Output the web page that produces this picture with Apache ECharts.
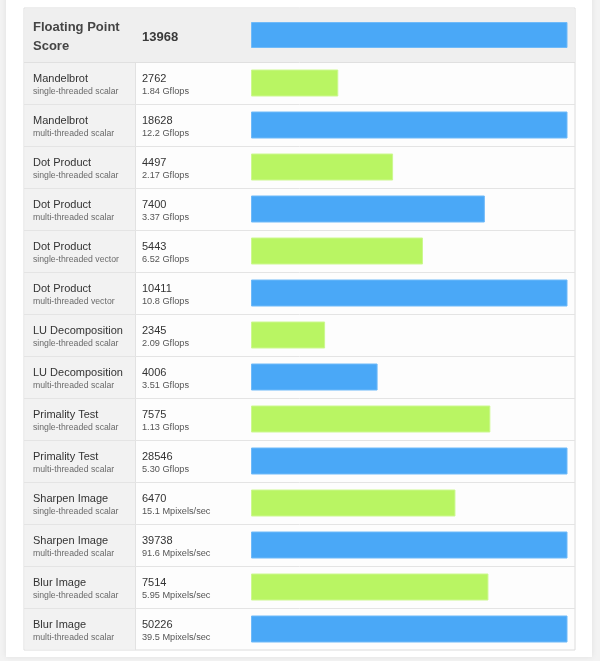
<!DOCTYPE html>
<html><head><meta charset="utf-8">
<style>html,body{margin:0;padding:0;background:#f3f3f3;}#c{width:600px;height:661px;}</style>
<script src="https://cdn.jsdelivr.net/npm/echarts@6/dist/echarts.min.js"></script>
</head><body><div id="c"></div>
<script>
// Header
const headerTitle = ['Floating Point', 'Score'];
const headerScore = 13968;
// Rows
const names = ['Mandelbrot','Mandelbrot','Dot Product','Dot Product','Dot Product','Dot Product','LU Decomposition','LU Decomposition','Primality Test','Primality Test','Sharpen Image','Sharpen Image','Blur Image','Blur Image'];
const variants = ['single-threaded scalar','multi-threaded scalar','single-threaded scalar','multi-threaded scalar','single-threaded vector','multi-threaded vector','single-threaded scalar','multi-threaded scalar','single-threaded scalar','multi-threaded scalar','single-threaded scalar','multi-threaded scalar','single-threaded scalar','multi-threaded scalar'];
const scores = [2762,18628,4497,7400,5443,10411,2345,4006,7575,28546,6470,39738,7514,50226];
const rates = ['1.84 Gflops','12.2 Gflops','2.17 Gflops','3.37 Gflops','6.52 Gflops','10.8 Gflops','2.09 Gflops','3.51 Gflops','1.13 Gflops','5.30 Gflops','15.1 Mpixels/sec','91.6 Mpixels/sec','5.95 Mpixels/sec','39.5 Mpixels/sec'];
const scaleMax = 10000;

const BLUE = '#4aa8f7', BLUE_B = '#6fbaf9';
const GREEN = '#b9f563', GREEN_B = '#ccf88f';
const FONT = '"Liberation Sans", Helvetica, Arial, sans-serif';

const cats = names.map((n, i) => i);
const chart = echarts.init(document.getElementById('c'));

// table frame (decoration)
const T = {x: 24, y: 8, r: 575, b: 650, hb: 62, c1: 135};
const rowH = (T.b - T.hb) / names.length;

const graphics = [
  {type: 'rect', z: -10, shape: {x: 6, y: -10, width: 586, height: 667}, style: {fill: '#ffffff', shadowBlur: 6, shadowColor: 'rgba(0,0,0,0.08)'}},
  {type: 'rect', z: -9, shape: {x: T.x, y: T.y, width: T.r - T.x, height: T.b - T.y}, style: {fill: '#fdfdfd', stroke: '#dcdcdc', lineWidth: 1}},
  {type: 'rect', z: -8, shape: {x: T.x + 0.5, y: T.hb, width: T.c1 - T.x, height: T.b - T.hb - 0.5}, style: {fill: '#f2f2f2'}},
  {type: 'line', z: -7, shape: {x1: T.c1 + 0.5, y1: T.hb, x2: T.c1 + 0.5, y2: T.b}, style: {stroke: '#e2e2e2', lineWidth: 1}},
  {type: 'rect', z: -8, shape: {x: T.x + 0.5, y: T.y + 0.5, width: T.r - T.x - 1, height: T.hb - T.y - 0.5}, style: {fill: '#efefef'}},
  {type: 'line', z: -7, shape: {x1: T.x, y1: T.hb + 0.5, x2: T.r, y2: T.hb + 0.5}, style: {stroke: '#e0e0e0', lineWidth: 1}}
];
for (let k = 1; k < names.length; k++) {
  const yy = Math.round(T.hb + k * rowH) + 0.5;
  graphics.push({type: 'line', z: -7, shape: {x1: T.x, y1: yy, x2: T.r, y2: yy}, style: {stroke: '#e4e4e4', lineWidth: 1}});
}

chart.setOption({
  backgroundColor: '#f3f3f3',
  animation: false,
  graphic: graphics,
  grid: [
    {left: 251, right: 33, top: 8, height: 54},
    {left: 251, right: 33, top: 62, height: 588}
  ],
  xAxis: [
    {gridIndex: 0, type: 'value', min: 0, max: scaleMax, show: false},
    {gridIndex: 1, type: 'value', min: 0, max: scaleMax, show: false}
  ],
  yAxis: [
    {gridIndex: 0, type: 'category', data: ['header'], axisLine: {show: false}, axisTick: {show: false}, splitLine: {show: false},
      axisLabel: {align: 'left', margin: 218,
        formatter: () => '{a|' + headerTitle[0] + '}\n{b|' + headerTitle[1] + '}',
        rich: {
          a: {fontFamily: FONT, fontSize: 13, fontWeight: 'bold', color: '#454545', lineHeight: 22},
          b: {fontFamily: FONT, fontSize: 13, fontWeight: 'bold', color: '#454545', lineHeight: 16}
        }}},
    {gridIndex: 1, type: 'category', data: cats, inverse: true,
      axisLine: {show: false}, axisTick: {show: false}, splitLine: {show: false},
      axisLabel: {
        align: 'left', margin: 218, interval: 0, padding: [3, 0, 0, 0],
        formatter: (v) => {
          const i = +v;
          return '{n|' + names[i] + '}{v|' + scores[i] + '}\n{s|' + variants[i] + '}{u|' + rates[i] + '}';
        },
        rich: {
          n: {width: 109, fontFamily: FONT, fontSize: 11, color: '#333', lineHeight: 14},
          v: {fontFamily: FONT, fontSize: 11, color: '#333', lineHeight: 14},
          s: {width: 109, fontFamily: FONT, fontSize: 8.7, color: '#6a6a6a', lineHeight: 12},
          u: {fontFamily: FONT, fontSize: 9.2, color: '#555', lineHeight: 12}
        }
      }}
  ],
  series: [
    {type: 'bar', xAxisIndex: 0, yAxisIndex: 0, barWidth: 26, clip: true,
      data: [headerScore], itemStyle: {color: BLUE, borderColor: BLUE_B, borderWidth: 1},
      label: {show: true, position: 'left', distance: 109, align: 'left', formatter: String(headerScore), offset: [0, 2],
        fontFamily: FONT, fontSize: 13, fontWeight: 'bold', color: '#3a3a3a'}},
    {type: 'bar', xAxisIndex: 1, yAxisIndex: 1, barWidth: 27, clip: true,
      data: scores.map((s, i) => {
        const single = variants[i].indexOf('single') === 0;
        return {value: s, itemStyle: {color: single ? GREEN : BLUE, borderColor: single ? GREEN_B : BLUE_B, borderWidth: 1}};
      })}
  ]
});
</script></body></html>
